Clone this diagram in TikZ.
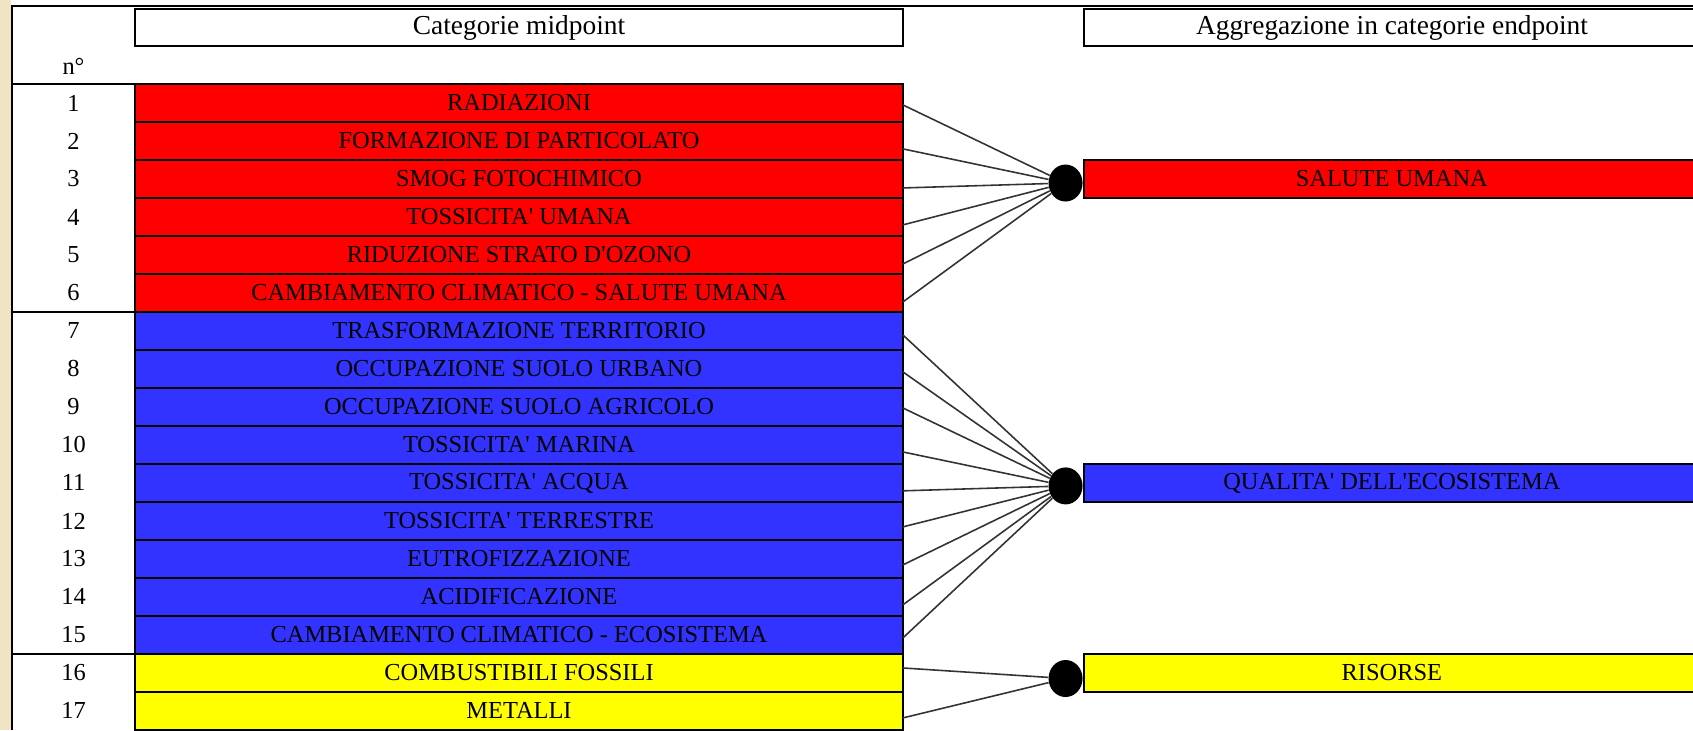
\documentclass[tikz,border=0pt]{standalone}
\usepackage{fontspec}
\setmainfont{Liberation Serif}[Ligatures=TeXOff]
\usepackage{tikz}
\usetikzlibrary{positioning,shapes.geometric}
\definecolor{salute}{RGB}{255,0,0}
\definecolor{ecosist}{RGB}{51,51,255}
\definecolor{risorse}{RGB}{255,255,0}
\definecolor{parch}{RGB}{240,228,196}
\newcommand{\rowfont}{\fontsize{13.9pt}{16pt}\selectfont}
\newcommand{\hdrfont}{\fontsize{15.6pt}{18pt}\selectfont}
\tikzset{
    link/.style={draw=black!80, line width=0.9pt},
    hub/.style={ellipse, fill=black, minimum width=0.68cm, minimum height=0.74cm, inner sep=0pt}
}

\begin{document}
\begin{tikzpicture}[
            x=0.02cm, y=-0.02cm,
            node distance=0pt,
            cell/.style={rectangle, draw, line width=0.8pt, minimum width=15.36cm, minimum height=0.76cm, inner sep=0pt, outer sep=0pt, font=\rowfont},
            endcell/.style={cell, minimum width=12.32cm},
            head/.style={cell, fill=white, minimum height=0.74cm, font=\hdrfont},
            num/.style={rectangle, minimum width=2.46cm, minimum height=0.76cm, inner sep=0pt, outer sep=0pt, font=\rowfont},
            rule/.style={line width=0.8pt}
        ]
            \useasboundingbox (0,0) rectangle (1693,730);
            \clip (0,0) rectangle (1693,730);
            \fill[parch] (0,0) rectangle (11,730);
            \draw[line width=1pt] (12,730) -- (12,6) -- (1693,6);

            % Headers
            \node[head] (hmid) at (519,27.5) {Categorie midpoint};
            \node[head, minimum width=12.32cm] (hend) at (1392,27.5) {Aggregazione in categorie endpoint};
            \node[num] (nhead) at (73.5,66) {n°};

            % Midpoint - salute umana
            \node[cell, fill=salute] (m1) at (519,103) {RADIAZIONI};
            \node[cell, fill=salute, below=of m1] (m2) {FORMAZIONE DI PARTICOLATO};
            \node[cell, fill=salute, below=of m2] (m3) {SMOG FOTOCHIMICO};
            \node[cell, fill=salute, below=of m3] (m4) {TOSSICITA' UMANA};
            \node[cell, fill=salute, below=of m4] (m5) {RIDUZIONE STRATO D'OZONO};
            \node[cell, fill=salute, below=of m5] (m6) {CAMBIAMENTO CLIMATICO - SALUTE UMANA};

            % Midpoint - ecosistema
            \node[cell, fill=ecosist, below=of m6] (m7) {TRASFORMAZIONE TERRITORIO};
            \node[cell, fill=ecosist, below=of m7] (m8) {OCCUPAZIONE SUOLO URBANO};
            \node[cell, fill=ecosist, below=of m8] (m9) {OCCUPAZIONE SUOLO AGRICOLO};
            \node[cell, fill=ecosist, below=of m9] (m10) {TOSSICITA' MARINA};
            \node[cell, fill=ecosist, below=of m10] (m11) {TOSSICITA' ACQUA};
            \node[cell, fill=ecosist, below=of m11] (m12) {TOSSICITA' TERRESTRE};
            \node[cell, fill=ecosist, below=of m12] (m13) {EUTROFIZZAZIONE};
            \node[cell, fill=ecosist, below=of m13] (m14) {ACIDIFICAZIONE};
            \node[cell, fill=ecosist, below=of m14] (m15) {CAMBIAMENTO CLIMATICO - ECOSISTEMA};

            % Midpoint - risorse
            \node[cell, fill=risorse, below=of m15] (m16) {COMBUSTIBILI FOSSILI};
            \node[cell, fill=risorse, below=of m16] (m17) {METALLI};

            % Numbers
            \node[num, left=of m1] (n1) {1};
            \node[num, left=of m2] (n2) {2};
            \node[num, left=of m3] (n3) {3};
            \node[num, left=of m4] (n4) {4};
            \node[num, left=of m5] (n5) {5};
            \node[num, left=of m6] (n6) {6};
            \node[num, left=of m7] (n7) {7};
            \node[num, left=of m8] (n8) {8};
            \node[num, left=of m9] (n9) {9};
            \node[num, left=of m10] (n10) {10};
            \node[num, left=of m11] (n11) {11};
            \node[num, left=of m12] (n12) {12};
            \node[num, left=of m13] (n13) {13};
            \node[num, left=of m14] (n14) {14};
            \node[num, left=of m15] (n15) {15};
            \node[num, left=of m16] (n16) {16};
            \node[num, left=of m17] (n17) {17};
            \draw[rule] (n1.north west) -- (n1.north east);
            \draw[rule] (n7.north west) -- (n7.north east);
            \draw[rule] (n16.north west) -- (n16.north east);

            % Endpoint
            \node[endcell, fill=salute, right=3.62cm of m3] (e1) {SALUTE UMANA};
            \node[endcell, fill=ecosist, right=3.62cm of m11] (e2) {QUALITA' DELL'ECOSISTEMA};
            \node[endcell, fill=risorse, right=3.62cm of m16] (e3) {RISORSE};
            \node[hub, left=0.02cm of e1, yshift=-2.3pt] (d1) {};
            \node[hub, left=0.02cm of e2, yshift=-1.7pt] (d2) {};
            \node[hub, left=0.02cm of e3, yshift=-3.2pt] (d3) {};

            % Links
            \draw[link] ([yshift=-1.1pt]m1.east) -- (d1);
            \draw[link] ([yshift=-4.5pt]m2.east) -- (d1);
            \draw[link] ([yshift=-5.1pt]m3.east) -- (d1);
            \draw[link] ([yshift=-4.5pt]m4.east) -- (d1);
            \draw[link] ([yshift=-5.1pt]m5.east) -- (d1);
            \draw[link] ([yshift=-5.1pt]m6.east) -- (d1);
            \draw[link] ([yshift=-2.3pt]m7.east) -- (d2);
            \draw[link] ([yshift=-1.7pt]m8.east) -- (d2);
            \draw[link] ([yshift=-0.6pt]m9.east) -- (d2);
            \draw[link] ([yshift=-4pt]m10.east) -- (d2);
            \draw[link] ([yshift=-4.5pt]m11.east) -- (d2);
            \draw[link] ([yshift=-3.4pt]m12.east) -- (d2);
            \draw[link] ([yshift=-3.4pt]m13.east) -- (d2);
            \draw[link] ([yshift=-4.5pt]m14.east) -- (d2);
            \draw[link] ([yshift=-1.7pt]m15.east) -- (d2);
            \draw[link] ([yshift=2.8pt]m16.east) -- (d3);
            \draw[link] ([yshift=-4pt]m17.east) -- (d3);
\end{tikzpicture}
\end{document}
